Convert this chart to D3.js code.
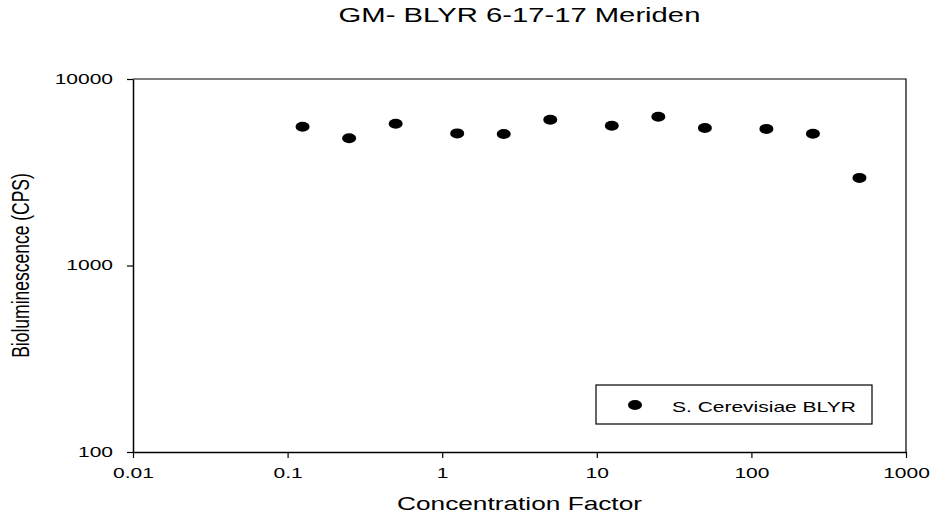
<!DOCTYPE html>
<html>
<head>
<meta charset="utf-8">
<script src="https://cdn.jsdelivr.net/npm/d3@7"></script>
<style>
  body { margin: 0; background: #fff; }
  svg { display: block; font-family: "Liberation Sans", Arial, sans-serif; }
</style>
</head>
<body>
<svg id="chart" width="933" height="521"></svg>
<script>
// concentration factor vs bioluminescence (CPS)
const concentration = [0.125, 0.25, 0.5, 1.25, 2.5, 5, 12.5, 25, 50, 125, 250, 500];
const cps = [5550, 4810, 5760, 5110, 5070, 6050, 5620, 6280, 5460, 5400, 5090, 2950];
const xTicks = [0.01, 0.1, 1, 10, 100, 1000];
const xTickLabels = ['0.01', '0.1', '1', '10', '100', '1000'];
const yTicks = [100, 1000, 10000];
const yTickLabels = ['100', '1000', '10000'];
const seriesName = 'S. Cerevisiae BLYR';

const SX = 1.5; // the picture is stretched sideways
const margin = {top: 79, right: 27, bottom: 69, left: 133},
    width = 933 - margin.left - margin.right,
    height = 521 - margin.top - margin.bottom;

const svg = d3.select('#chart');
const g = svg.append('g')
    .attr('transform', `translate(${margin.left},${margin.top})`);

let x = d3.scaleLog().domain([0.01, 1000]).range([0, width]);
let y = d3.scaleLog().domain([100, 10000]).range([height, 0]);

// frame (top/right)
g.append('path')
    .attr('d', `M0,0H${width}V${height}`)
    .attr('fill', 'none')
    .attr('stroke', '#000')
    .attr('stroke-width', 1.2);

// X axis
const xa = g.append('g')
    .attr('transform', `translate(0,${height})`)
    .call(d3.axisBottom(x)
        .tickValues(xTicks)
        .tickSizeInner(6).tickSizeOuter(0)
        .tickFormat((d, i) => xTickLabels[i]));
xa.select('.domain').attr('stroke-width', 1.5);
xa.selectAll('.tick line').attr('stroke-width', 1.2);
xa.selectAll('.tick text')
    .attr('font-size', 14)
    .attr('fill', '#000')
    .attr('y', 16)
    .attr('transform', `scale(${SX},1)`);

// Y axis
const ya = g.append('g')
    .call(d3.axisLeft(y)
        .tickValues(yTicks)
        .tickSizeInner(6).tickSizeOuter(0)
        .tickFormat((d, i) => yTickLabels[i]));
ya.select('.domain').attr('stroke-width', 1.5);
ya.selectAll('.tick line').attr('stroke-width', 1.2);
ya.selectAll('.tick text')
    .attr('font-size', 14)
    .attr('fill', '#000')
    .attr('x', -20 / SX)
    .attr('transform', `scale(${SX},1)`);

// title + axis labels
svg.append('text')
    .attr('transform', `translate(${margin.left + width / 2},22) scale(${SX},1)`)
    .attr('text-anchor', 'middle')
    .attr('font-size', 19.5)
    .text('GM- BLYR 6-17-17 Meriden');

svg.append('text')
    .attr('transform', `translate(${margin.left + width / 2},510) scale(${SX},1)`)
    .attr('text-anchor', 'middle')
    .attr('font-size', 17.5)
    .text('Concentration Factor');

svg.append('text')
    .attr('transform', `translate(29,${margin.top + height / 2}) scale(${SX * 0.93},1) rotate(-90)`)
    .attr('text-anchor', 'middle')
    .attr('font-size', 17.5)
    .text('Bioluminescence (CPS)');

// points
g.append('g')
    .selectAll('ellipse')
    .data(concentration)
    .enter()
    .append('ellipse')
        .attr('cx', d => x(d))
        .attr('cy', (d, i) => y(cps[i]))
        .attr('rx', 7)
        .attr('ry', 5)
        .attr('fill', '#000');

// legend
const lg = svg.append('g').attr('transform', 'translate(596,385)');
lg.append('rect')
    .attr('width', 276).attr('height', 39)
    .attr('fill', '#fff').attr('stroke', '#000').attr('stroke-width', 1.2);
lg.append('ellipse')
    .attr('cx', 39).attr('cy', 20).attr('rx', 7).attr('ry', 5)
    .attr('fill', '#000');
lg.append('text')
    .attr('transform', `translate(76,27) scale(${SX},1)`)
    .attr('font-size', 14)
    .text(seriesName);
</script>
</body>
</html>
